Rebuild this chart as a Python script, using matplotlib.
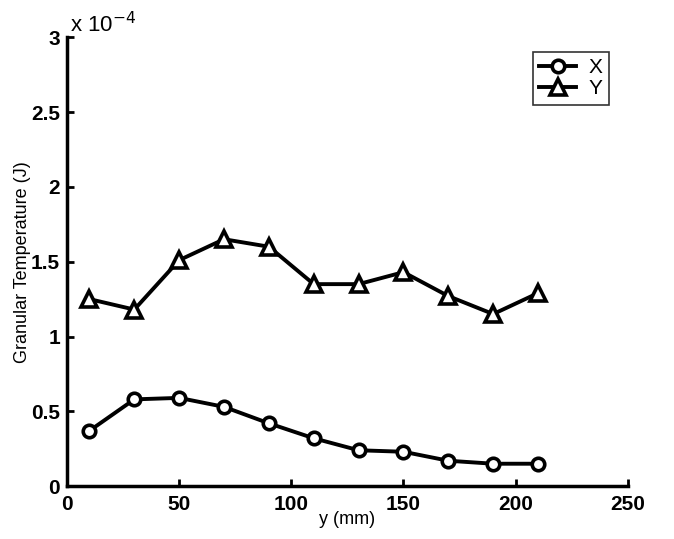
import matplotlib.pyplot as plt
from matplotlib.ticker import FuncFormatter

# Granular temperature profiles (units of 1e-4 J)
y_mm = [10, 30, 50, 70, 90, 110, 130, 150, 170, 190, 210]
temp_x = [0.37, 0.58, 0.59, 0.53, 0.42, 0.32, 0.24, 0.23, 0.17, 0.15, 0.15]
temp_y = [1.25, 1.18, 1.51, 1.65, 1.60, 1.35, 1.35, 1.43, 1.27, 1.15, 1.29]

plt.rcParams["font.family"] = ["Liberation Sans", "DejaVu Sans"]

fig = plt.figure(figsize=(6.74, 5.39), dpi=100)
ax = fig.add_axes([0.0994, 0.098, 0.832, 0.833])

ax.plot(y_mm, temp_x, "o-", color="black", linewidth=2.8, markersize=9,
        markeredgewidth=2.6, markerfacecolor="white", label="X")
ax.plot(y_mm, temp_y, "^-", color="black", linewidth=2.8, markersize=11,
        markeredgewidth=2.6, markerfacecolor="white", label="Y")

ax.set_xlim(0, 250)
ax.set_ylim(0, 3)
ax.set_xticks([0, 50, 100, 150, 200, 250])
ax.set_yticks([0, 0.5, 1, 1.5, 2, 2.5, 3])
ax.yaxis.set_major_formatter(FuncFormatter(lambda v, p: f"{v:g}"))

for s in ["top", "right"]:
    ax.spines[s].set_visible(False)
for s in ["left", "bottom"]:
    ax.spines[s].set_linewidth(2.5)

ax.tick_params(direction="in", length=5, width=2, labelsize=15)
ax.tick_params(axis="x", pad=6)
ax.tick_params(axis="y", pad=5)
for lab in ax.get_xticklabels() + ax.get_yticklabels():
    lab.set_fontweight("bold")

ax.set_xlabel("y (mm)", fontsize=13, labelpad=-2)
ax.set_ylabel("Granular Temperature (J)", fontsize=13, labelpad=0)
ax.text(0.005, 1.0, r"x 10$^{-4}$", transform=ax.transAxes,
        fontsize=16, ha="left", va="bottom")

leg = ax.legend(loc="upper right", bbox_to_anchor=(0.985, 0.99), fontsize=15,
                frameon=True, fancybox=False, edgecolor="black",
                handlelength=1.8, borderpad=0.3, labelspacing=0.1,
                handletextpad=0.6)
leg.get_frame().set_linewidth(1.2)

fig.savefig("out.png", dpi=100)
